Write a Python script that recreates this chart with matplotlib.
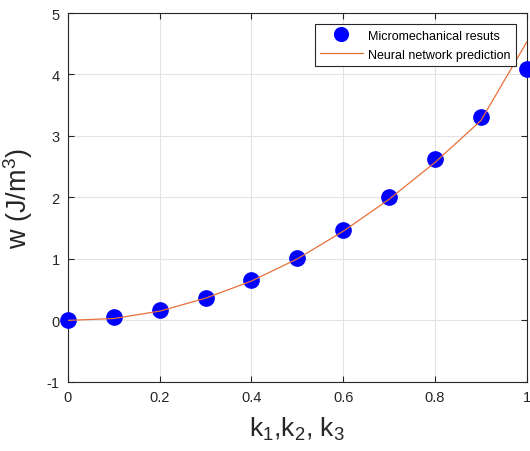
import numpy as np
import matplotlib.pyplot as plt

plt.rcParams['font.family'] = ['Liberation Sans', 'DejaVu Sans']
plt.rcParams['axes.unicode_minus'] = False
plt.rcParams['mathtext.fontset'] = 'custom'
plt.rcParams['mathtext.rm'] = 'Liberation Sans'
plt.rcParams['mathtext.it'] = 'Liberation Sans'

k = [0, 0.1, 0.2, 0.3, 0.4, 0.5, 0.6, 0.7, 0.8, 0.9, 1.0]
w_micro = [0.0, 0.05, 0.17, 0.37, 0.65, 1.02, 1.47, 2.0, 2.62, 3.31, 4.09]
w_nn = [0.0, 0.03, 0.15, 0.36, 0.64, 1.0, 1.45, 1.97, 2.57, 3.25, 4.53]

fig = plt.figure(figsize=(5.3, 4.52), dpi=100)
ax = fig.add_axes([0.128, 0.153, 0.866, 0.816])

ax.plot(k, w_micro, 'o', color='#0000ff', markersize=11, label='Micromechanical resuts',
        zorder=3, clip_on=False)
ax.plot(k, w_nn, '-', color='#e8703a', linewidth=0.9, label='Neural network prediction', zorder=4)

ax.set_xlim(0, 1)
ax.set_ylim(-1, 5)
ax.set_xticks([0, 0.2, 0.4, 0.6, 0.8, 1])
ax.set_xticklabels(['0', '0.2', '0.4', '0.6', '0.8', '1'])
ax.set_yticks([-1, 0, 1, 2, 3, 4, 5])
ax.grid(True, color='#e3e3e3', linewidth=0.8)
ax.set_axisbelow(True)
ax.tick_params(direction='in', top=True, right=True, colors='#262626', labelsize=10.5, length=4, pad=6)
for s in ax.spines.values():
    s.set_color('#262626')
    s.set_linewidth(0.8)

ax.set_xlabel('k$_1$,k$_2$, k$_3$', fontsize=19, color='#262626', labelpad=8)
ax.set_ylabel('w (J/m$^3$)', fontsize=19.5, color='#262626', labelpad=8)

leg = ax.legend(loc='upper right', bbox_to_anchor=(0.976, 0.970), borderaxespad=0, fontsize=9,
                fancybox=False, edgecolor='#262626', framealpha=1, borderpad=0.45,
                handlelength=3.4, handletextpad=0.4, labelspacing=0.55, markerscale=0.9)
leg.get_frame().set_linewidth(0.8)

fig.savefig('out.png', dpi=100)
